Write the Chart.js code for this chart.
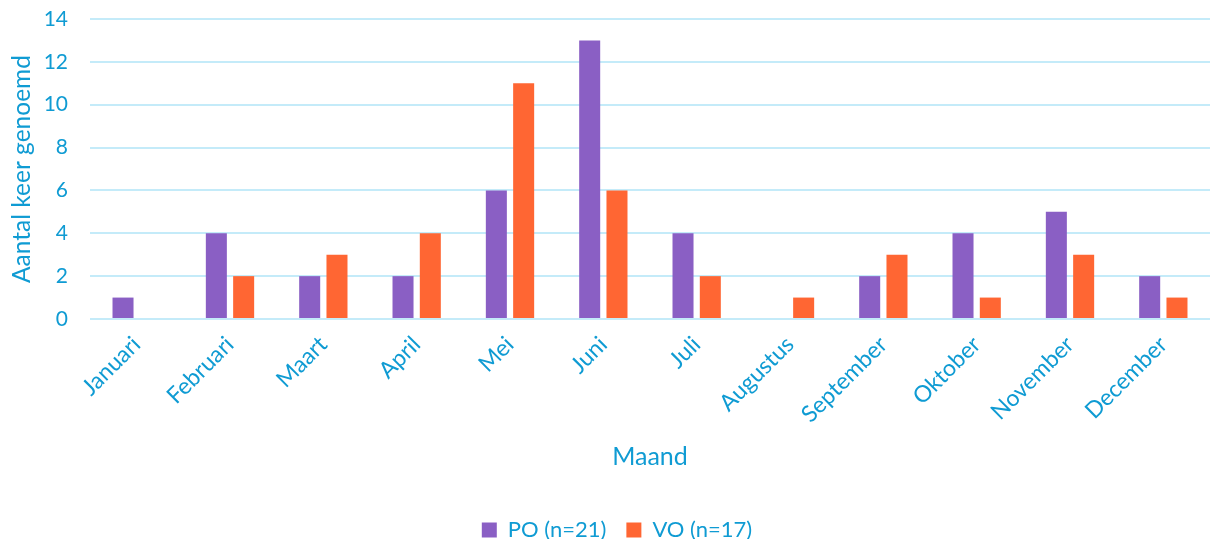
<!DOCTYPE html>
<html>
<head>
<meta charset="utf-8">
<script src="https://cdn.jsdelivr.net/npm/chart.js@4/dist/chart.umd.min.js"></script>
<style>
  html, body { margin: 0; padding: 0; background: #ffffff; }
  #wrap { width: 1224px; height: 539px; position: relative; }
</style>
</head>
<body>
<div id="wrap"><canvas id="chart" width="1224" height="539"></canvas></div>
<script>
// Months on the x axis
const months = ['Januari', 'Februari', 'Maart', 'April', 'Mei', 'Juni', 'Juli',
  'Augustus', 'September', 'Oktober', 'November', 'December'];

// Number of times each month was mentioned
const poValues = [1, 4, 2, 2, 6, 13, 4, 0, 2, 4, 5, 2];
const voValues = [0, 2, 3, 4, 11, 6, 2, 1, 3, 1, 3, 1];

const poLabel = 'PO (n=21)';
const voLabel = 'VO (n=17)';
const yTitle = 'Aantal keer genoemd';

const textBlue = '#0f9bd3';
const gridBlue = '#c4ebf9';
const fontFamily = 'Lato, "Open Sans", sans-serif';

// Vertical axis title, centred on the plot area next to the canvas edge
const yTitlePlugin = {
  id: 'yTitle',
  afterDraw(chart) {
    const { ctx, chartArea } = chart;
    ctx.save();
    ctx.translate(22, (chartArea.top + chartArea.bottom) / 2);
    ctx.rotate(-Math.PI / 2);
    ctx.font = '24.5px ' + fontFamily;
    ctx.fillStyle = textBlue;
    ctx.textAlign = 'center';
    ctx.textBaseline = 'middle';
    ctx.fillText(yTitle, 0, 0);
    ctx.restore();
  }
};

new Chart(document.getElementById('chart'), {
  type: 'bar',
  data: {
    labels: months,
    datasets: [
      {
        label: poLabel,
        data: poValues,
        backgroundColor: '#8a5fc4',
        categoryPercentage: 0.585,
        barPercentage: 0.77
      },
      {
        label: voLabel,
        data: voValues,
        backgroundColor: '#ff6633',
        categoryPercentage: 0.585,
        barPercentage: 0.77
      }
    ]
  },
  plugins: [yTitlePlugin],
  options: {
    responsive: false,
    animation: false,
    layout: { padding: { left: 24, right: 14, top: 19, bottom: -12 } },
    plugins: {
      legend: {
        position: 'bottom',
        labels: {
          color: textBlue,
          font: { family: fontFamily, size: 22 },
          boxWidth: 15,
          boxHeight: 15,
          padding: 20
        }
      },
      tooltip: { enabled: false }
    },
    scales: {
      x: {
        grid: { display: false },
        border: { display: false },
        ticks: {
          color: textBlue,
          font: { family: fontFamily, size: 23 },
          minRotation: 45,
          maxRotation: 45,
          padding: 4
        },
        title: {
          display: true,
          text: 'Maand',
          color: textBlue,
          font: { family: fontFamily, size: 25 },
          padding: { top: 10, bottom: 27 }
        },
        // fixed axis band so the plot area ends at the zero line
        afterFit(scale) {
          scale.paddingLeft = 0;
          scale.paddingRight = 0;
          scale.height = 180;
        }
      },
      y: {
        min: 0,
        max: 14,
        ticks: {
          stepSize: 2,
          color: textBlue,
          font: { family: fontFamily, size: 21 },
          padding: 22
        },
        grid: {
          color: gridBlue,
          lineWidth: 2,
          drawTicks: false
        },
        border: { display: false },
        title: { display: false },
        afterFit(scale) {
          scale.width = 66;
          scale.paddingTop = 0;
          scale.paddingBottom = 0;
        }
      }
    }
  }
});
</script>
</body>
</html>
